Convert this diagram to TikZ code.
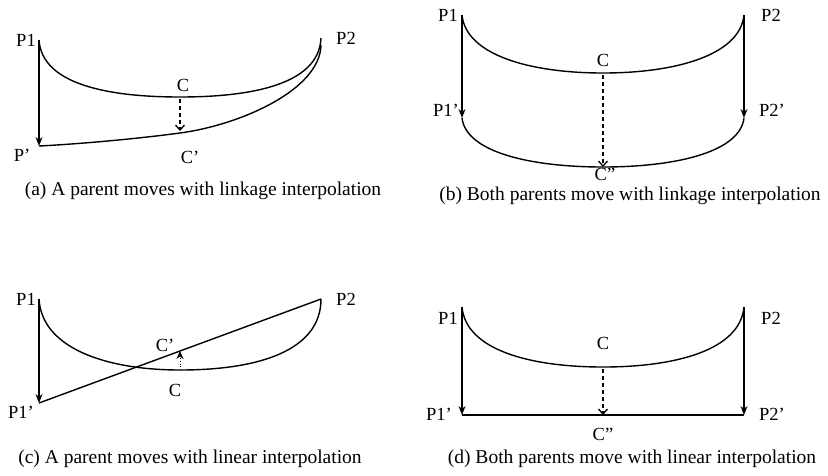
\documentclass[tikz,border=0pt]{standalone}
\usepackage{fontspec}
\setmainfont{Liberation Serif}
\usetikzlibrary{arrows.meta}
\begin{document}
\begin{tikzpicture}[x=1pt,y=-1pt,
  lbl/.style={inner sep=0pt,font=\fontsize{18.5}{20}\selectfont},
  captxt/.style={inner sep=0pt,font=\fontsize{19.5}{21}\selectfont},
  curve/.style={line width=1.4pt},
  solidarr/.style={line width=1.2pt,-{Stealth[length=9pt,width=7pt]}},
  dasharr/.style={line width=1.3pt,dash pattern=on 4pt off 3pt,-{Straight Barb[length=5pt,width=9pt]}},
  dotarr/.style={line width=0.8pt,dotted,-{Stealth[length=8pt,width=7pt]}}]
\useasboundingbox (0,0) rectangle (828,475);
\fill[white] (0,0) rectangle (828,475);
% ---------- (a) ----------
\coordinate (aP1) at (39,40);
\coordinate (aP2) at (321,38);
\coordinate (aP2b) at (321,45);
\coordinate (aC) at (180,97);
\coordinate (aCp) at (180,133);
\coordinate (aPp) at (39,146);
\draw[curve] (aP1) .. controls (42,85) and (110,97) .. (aC) .. controls (250,97) and (319,85) .. (aP2);
\draw[curve] (aP2b) .. controls (320,90) and (240,125) .. (aCp) .. controls (120,141) and (60,145) .. (aPp);
\draw[solidarr] (aP1) -- (aPp);
\draw[dasharr] (180,99) -- (180,131);
\node[lbl] (laP1) at (26,40) {P1};
\node[lbl] (laP2) at (346,38) {P2};
\node[lbl] (laC) at (183,85) {C};
\node[lbl] (laPp) at (22,155) {P'};
\node[lbl] (laCp) at (190,157) {C'};
\node[captxt] (capa) at (203,191) {(a) A parent moves with linkage interpolation};
% ---------- (b) ----------
\coordinate (bP1) at (462,15);
\coordinate (bP2) at (744,15);
\coordinate (bC) at (603,73);
\coordinate (bP1p) at (462,118);
\coordinate (bP2p) at (744,118);
\coordinate (bCpp) at (603,167);
\draw[curve] (bP1) .. controls (466,55) and (530,73) .. (bC) .. controls (676,73) and (740,55) .. (bP2);
\draw[curve] (bP1p) .. controls (466,152) and (530,167) .. (bCpp) .. controls (676,167) and (740,152) .. (bP2p);
\draw[solidarr] (bP1) -- (bP1p);
\draw[solidarr] (bP2) -- (bP2p);
\draw[dasharr] (603,75) -- (bCpp);
\node[lbl] (lbP1) at (448,15) {P1};
\node[lbl] (lbP2) at (771,15) {P2};
\node[lbl] (lbC) at (603,60) {C};
\node[lbl] (lbP1p) at (446,110) {P1'};
\node[lbl] (lbP2p) at (772,110) {P2'};
\node[lbl] (lbCpp) at (605,174) {C''};
\node[captxt] (capb) at (630,196) {(b) Both parents move with linkage interpolation};
% ---------- (c) ----------
\coordinate (cP1) at (39,299);
\coordinate (cP2) at (321,299);
\coordinate (cC) at (180,370);
\coordinate (cCp) at (180,351);
\coordinate (cP1p) at (39,403);
\draw[curve] (cP1) .. controls (42,350) and (110,370) .. (cC) .. controls (260,370) and (321,350) .. (cP2);
\draw[curve] (cP1p) -- (cP2);
\draw[solidarr] (cP1) -- (cP1p);
\draw[dotarr] (cC) -- (cCp);
\node[lbl] (lcP1) at (26,299) {P1};
\node[lbl] (lcP2) at (346,299) {P2};
\node[lbl] (lcCp) at (165,345) {C'};
\node[lbl] (lcC) at (175,390) {C};
\node[lbl] (lcP1p) at (21,412) {P1'};
\node[captxt] (capc) at (190,459) {(c) A parent moves with linear interpolation};
% ---------- (d) ----------
\coordinate (dP1) at (462,307);
\coordinate (dP2) at (744,307);
\coordinate (dC) at (603,367);
\coordinate (dP1p) at (462,415);
\coordinate (dP2p) at (744,415);
\coordinate (dCpp) at (603,415);
\draw[curve] (dP1) .. controls (466,350) and (530,367) .. (dC) .. controls (676,367) and (740,350) .. (dP2);
\draw[curve] (dP1p) -- (dP2p);
\draw[solidarr] (dP1) -- (dP1p);
\draw[solidarr] (dP2) -- (dP2p);
\draw[dasharr] (603,369) -- (dCpp);
\node[lbl] (ldP1) at (448,318) {P1};
\node[lbl] (ldP2) at (771,318) {P2};
\node[lbl] (ldC) at (603,343) {C};
\node[lbl] (ldP1p) at (439,414) {P1'};
\node[lbl] (ldP2p) at (772,414) {P2'};
\node[lbl] (ldCpp) at (603,434) {C''};
\node[captxt] (capd) at (632,459) {(d) Both parents move with linear interpolation};
\end{tikzpicture}
\end{document}
